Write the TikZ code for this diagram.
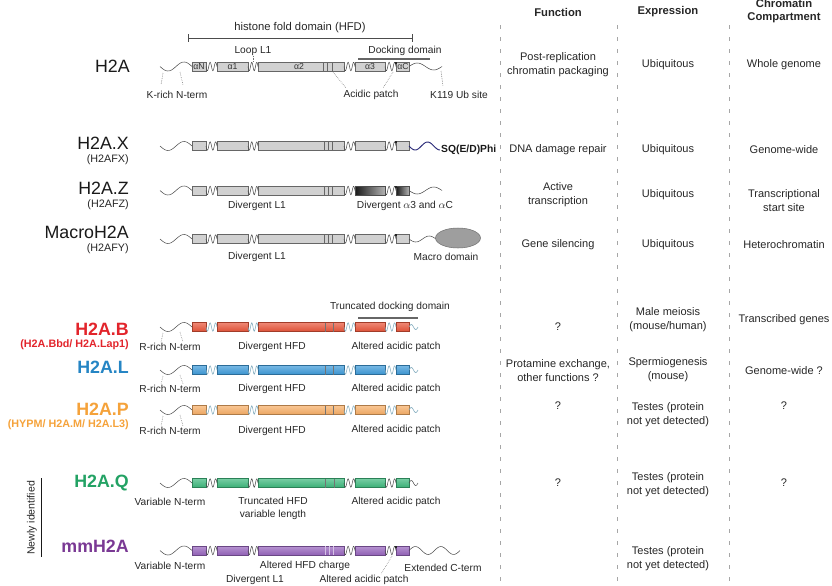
\documentclass[tikz,border=0pt]{standalone}
\usepackage{fontspec}
\setmainfont{Liberation Sans}
\usetikzlibrary{positioning}

\definecolor{hred}{HTML}{E8553A}
\definecolor{hredtxt}{HTML}{E2242B}
\definecolor{hblue}{HTML}{3D9AD9}
\definecolor{hbluetxt}{HTML}{2585C4}
\definecolor{horange}{HTML}{F7AE66}
\definecolor{horangetxt}{HTML}{F5A23A}
\definecolor{hgreen}{HTML}{3DB87C}
\definecolor{hgreentxt}{HTML}{23A264}
\definecolor{hpurple}{HTML}{9866BE}
\definecolor{hpurpletxt}{HTML}{7A3994}
\definecolor{loopblue}{HTML}{86AEC0}
\definecolor{sqblue}{HTML}{2A2A78}

\tikzset{
  wire/.style={draw=black!70, line width=0.45pt},
  loopwire/.style={draw=loopblue, line width=0.5pt},
  sqwire/.style={draw=sqblue, line width=0.8pt},
  gbox/.style={draw=black!60, fill=black!18, line width=0.45pt},
  cbox/.style={draw=#1!70!black, top color=#1!70!white, bottom color=#1!95!black, line width=0.45pt},
  zbox/.style={draw=black!70, left color=black!90, right color=black!30, line width=0.45pt},
  leadline/.style={draw=black!55, densely dotted, line width=0.5pt},
  dockbar/.style={draw=black!60, line width=1.3pt},
  tagnote/.style={font=\fontsize{8.7}{10.8}\selectfont, text=black!85, align=center, inner sep=0pt},
  cellnote/.style={font=\fontsize{9.4}{12}\selectfont, text=black!85, align=center, inner sep=0pt},
  colhead/.style={font=\bfseries\fontsize{9.6}{11.5}\selectfont, text=black!85, align=center, inner sep=0pt},
  vname/.style={font=\fontsize{15.2}{17}\selectfont, text=black!90, anchor=east, inner sep=0pt},
  vbold/.style={font=\bfseries\fontsize{15.2}{17}\selectfont, text=#1, anchor=east, inner sep=0pt},
  vgene/.style={font=\fontsize{9.2}{11}\selectfont, text=black!85, anchor=east, inner sep=0pt},
  vgenebold/.style={font=\bfseries\fontsize{9.2}{11}\selectfont, text=#1, anchor=east, inner sep=0pt},
  hxlabel/.style={font=\fontsize{7.4}{8}\selectfont, text=black!80, inner sep=0pt},
  coldash/.style={draw=black!35, dash pattern=on 1.2mm off 2.4mm, line width=0.5pt},
}

\begin{document}
\begin{tikzpicture}[x=0.03cm,y=-0.03cm]
  \useasboundingbox (0,0) rectangle (832,586);
  \def\wave#1#2#3#4#5#6{\draw[#6] plot[smooth,samples=30,domain=#1:#2] (\x,{#3+(#4)*sin(360*#5/(#2-#1)*(\x-#1))});}
  \def\chain#1#2#3{%
    \wave{160}{192}{#1}{4.5}{1}{wire}
    \foreach \a/\b in {192/206,217/248,258/344,355/385,396/409}
      {\draw[#2] (\a,#1-4.5) rectangle (\b,#1+4.5);}
    \foreach \a/\b in {206/217,248/258,344/355,385/396}
      {\wave{\a}{\b}{#1}{4.2}{2}{#3}}}
  \def\stripes#1#2#3{\foreach \sx in {#2} {\draw[#3] (\sx,#1-4.5) -- (\sx,#1+4.5);}}
  \def\kdot#1{\fill[black!85] (394.5,#1-5) rectangle (396.8,#1-2.7);}

  % column heads and separators
  \node[colhead] (hfun) at (558,12) {Function};
  \node[colhead] (hexp) at (668,12) {Expression};
  \node[colhead] (hcomp) at (784,11) {Chromatin\\Compartment};
  \foreach \cx in {500,617,729} \draw[coldash] (\cx,25) -- (\cx,586);

  % H2A
  \node[vname] (nH2A) at (130,66) {H2A};
  \chain{66.5}{gbox}{wire}
  \stripes{66.5}{323,327.5,332}{draw=black!60}
  \wave{409}{442}{66.5}{-3.5}{1}{wire}
  \kdot{66.5}
  \node[hxlabel] (aN) at (199,66.5) {αN};
  \node[hxlabel] (a1) at (232.5,66.5) {α1};
  \node[hxlabel] (a2) at (299,66.5) {α2};
  \node[hxlabel] (a3) at (370,66.5) {α3};
  \node[hxlabel] (aC) at (403,66.5) {αC};
  \coordinate (hfdl) at (188,38);
  \coordinate (hfdr) at (413,38);
  \draw[|-|, black!70, line width=0.6pt] (hfdl) -- (hfdr);
  \node[tagnote, font=\fontsize{9.6}{11}\selectfont] (hfd) at (300,28) {histone fold domain (HFD)};
  \node[tagnote] (loopL1) at (253,51) {Loop L1};
  \coordinate (loopend) at (253,62);
  \draw[leadline] (loopL1) -- (loopend);
  \node[tagnote] (dock) at (405,51) {Docking domain};
  \draw[dockbar] (358,59) -- (430,59);
  \node[tagnote] (krich) at (177,95) {K-rich N-term};
  \coordinate (kr1) at (163,73); \coordinate (kr1e) at (161,85);
  \coordinate (kr2) at (180,72); \coordinate (kr2e) at (183,85);
  \draw[leadline] (kr1) -- (kr1e);
  \draw[leadline] (kr2) -- (kr2e);
  \node[tagnote] (acid) at (371,95) {Acidic patch};
  \coordinate (ac1) at (333,72); \coordinate (ac1e) at (346,88);
  \coordinate (ac2) at (393,72); \coordinate (ac2e) at (383,88);
  \draw[leadline] (ac1) -- (ac1e);
  \draw[leadline] (ac2) -- (ac2e);
  \node[tagnote] (kub) at (459,95) {K119 Ub site};
  \coordinate (ku) at (441,71); \coordinate (kue) at (443,86);
  \draw[leadline] (ku) -- (kue);
  \node[cellnote] (fH2A) at (558,65) {Post-replication\\chromatin packaging};
  \node[cellnote] (eH2A) at (668,65) {Ubiquitous};
  \node[cellnote] (cH2A) at (784,65) {Whole genome};

  % H2A.X
  \node[vname] (nX) at (129,143) {H2A.X};
  \node[vgene] (gX) at (129,159.5) {(H2AFX)};
  \chain{146}{gbox}{wire}
  \stripes{146}{324,328.3,332.3}{draw=black!60}
  \kdot{146}
  \wave{409}{440}{146}{4}{1.25}{sqwire}
  \node[font=\bfseries\fontsize{8.8}{10}\selectfont, text=black!90, anchor=west, inner sep=0pt] (sq) at (441,150) {SQ(E/D)Phi};
  \node[cellnote] (fX) at (558,150) {DNA damage repair};
  \node[cellnote] (eX) at (668,150) {Ubiquitous};
  \node[cellnote] (cX) at (784,150) {Genome-wide};

  % H2A.Z
  \node[vname] (nZ) at (129,188) {H2A.Z};
  \node[vgene] (gZ) at (129,204.5) {(H2AFZ)};
  \chain{190.5}{gbox}{wire}
  \draw[zbox] (355,186) rectangle (385,195);
  \draw[zbox] (396,186) rectangle (409,195);
  \stripes{190.5}{324,328.3,332.3}{draw=black!60}
  \kdot{190.5}
  \wave{409}{442}{190.5}{3.5}{1}{wire}
  \node[tagnote] (dL1z) at (257,206) {Divergent L1};
  \node[tagnote] (dacz) at (405,206) {Divergent $\alpha$3 and $\alpha$C};
  \node[cellnote] (fZ) at (558,194.5) {Active\\transcription};
  \node[cellnote] (eZ) at (668,194.5) {Ubiquitous};
  \node[cellnote] (cZ) at (784,201) {Transcriptional\\start site};

  % MacroH2A
  \node[vname] (nM) at (129,232.5) {MacroH2A};
  \node[vgene] (gM) at (129,249) {(H2AFY)};
  \chain{239}{gbox}{wire}
  \stripes{239}{324,328.3,332.3}{draw=black!60}
  \kdot{239}
  \wave{409}{436}{239}{3}{1}{wire}
  \draw[draw=black!55, fill=black!38, line width=0.45pt] (458,238) ellipse [x radius=22.5, y radius=10];
  \node[tagnote] (dL1m) at (257,257) {Divergent L1};
  \node[tagnote] (mdom) at (446,257) {Macro domain};
  \node[cellnote] (fM) at (558,245) {Gene silencing};
  \node[cellnote] (eM) at (668,245) {Ubiquitous};
  \node[cellnote] (cM) at (784,245) {Heterochromatin};

  % H2A.B
  \node[vbold=hredtxt] (nB) at (129,329) {H2A.B};
  \node[vgenebold=hredtxt] (gB) at (129,345) {(H2A.Bbd/ H2A.Lap1)};
  \chain{327}{cbox=hred}{loopwire}
  \stripes{327}{325,333}{draw=black!55}
  \wave{409}{418}{327}{-2.5}{1}{loopwire}
  \node[tagnote] (tdock) at (390,307) {Truncated docking domain};
  \draw[dockbar] (358,318) -- (418,318);
  \node[tagnote] (rB) at (170,347) {R-rich N-term};
  \node[tagnote] (hB) at (272,347) {Divergent HFD};
  \node[tagnote] (pB) at (396,347) {Altered acidic patch};
  \coordinate (rB1) at (163,333); \coordinate (rB1e) at (161,342);
  \coordinate (rB2) at (180,332); \coordinate (rB2e) at (183,342);
  \draw[leadline] (rB1) -- (rB1e);
  \draw[leadline] (rB2) -- (rB2e);
  \node[cellnote] (fB) at (558,327) {?};
  \node[cellnote] (eB) at (668,320) {Male meiosis\\(mouse/human)};
  \node[cellnote] (cB) at (784,320) {Transcribed genes};

  % H2A.L
  \node[vbold=hbluetxt] (nL) at (129,367) {H2A.L};
  \chain{370}{cbox=hblue}{loopwire}
  \stripes{370}{325,333}{draw=black!55}
  \wave{409}{418}{370}{-2.5}{1}{loopwire}
  \node[tagnote] (rL) at (170,389) {R-rich N-term};
  \node[tagnote] (hL) at (272,389) {Divergent HFD};
  \node[tagnote] (pL) at (396,389) {Altered acidic patch};
  \coordinate (rL1) at (163,376); \coordinate (rL1e) at (161,384);
  \coordinate (rL2) at (180,375); \coordinate (rL2e) at (183,384);
  \draw[leadline] (rL1) -- (rL1e);
  \draw[leadline] (rL2) -- (rL2e);
  \node[cellnote] (fL) at (558,371) {Protamine exchange,\\other functions ?};
  \node[cellnote] (eL) at (668,370) {Spermiogenesis\\(mouse)};
  \node[cellnote] (cL) at (784,371) {Genome-wide ?};

  % H2A.P
  \node[vbold=horangetxt] (nP) at (129,409) {H2A.P};
  \node[vgenebold=horangetxt] (gP) at (129,425) {(HYPM/ H2A.M/ H2A.L3)};
  \chain{410}{cbox=horange}{loopwire}
  \stripes{410}{325,333}{draw=black!55}
  \wave{409}{418}{410}{-2.5}{1}{loopwire}
  \node[tagnote] (rP) at (170,431) {R-rich N-term};
  \node[tagnote] (hP) at (272,431) {Divergent HFD};
  \node[tagnote] (pP) at (396,430) {Altered acidic patch};
  \coordinate (rP1) at (163,416); \coordinate (rP1e) at (161,426);
  \coordinate (rP2) at (180,415); \coordinate (rP2e) at (183,426);
  \draw[leadline] (rP1) -- (rP1e);
  \draw[leadline] (rP2) -- (rP2e);
  \node[cellnote] (fP) at (558,406) {?};
  \node[cellnote] (eP) at (668,415) {Testes (protein\\not yet detected)};
  \node[cellnote] (cP) at (784,406) {?};

  % newly identified
  \node[rotate=90, font=\fontsize{9}{10}\selectfont, text=black!85, inner sep=0pt] (newly) at (32,518) {Newly identified};
  \draw[black!90, line width=0.7pt] (41,478) -- (41,557);

  % H2A.Q
  \node[vbold=hgreentxt] (nQ) at (129,483) {H2A.Q};
  \chain{483}{cbox=hgreen}{wire}
  \stripes{483}{325,334}{draw=black!55}
  \wave{409}{418}{483}{-2.5}{1}{wire}
  \node[tagnote] (vQ) at (170,502) {Variable N-term};
  \node[tagnote] (hQ) at (273,508.5) {Truncated HFD\\variable length};
  \node[tagnote] (pQ) at (396,502) {Altered acidic patch};
  \node[cellnote] (fQ) at (558,483) {?};
  \node[cellnote] (eQ) at (668,485) {Testes (protein\\not yet detected)};
  \node[cellnote] (cQ) at (784,483) {?};

  % mmH2A
  \node[vbold=hpurpletxt] (nmm) at (129,546) {mmH2A};
  \chain{550.5}{cbox=hpurple}{wire}
  \stripes{550.5}{325,329,333}{draw=hpurple!40!white}
  \kdot{550.5}
  \wave{409}{460}{550.5}{-4}{2}{wire}
  \node[tagnote] (vmm) at (170,566) {Variable N-term};
  \node[tagnote] (hmm) at (305,566) {Altered HFD charge};
  \node[tagnote] (cmmt) at (443,568) {Extended C-term};
  \node[tagnote] (dL1mm) at (255,580) {Divergent L1};
  \node[tagnote] (pmm) at (364,580) {Altered acidic patch};
  \coordinate (am1) at (392,556); \coordinate (am1e) at (381,574);
  \draw[leadline] (am1) -- (am1e);
  \node[cellnote] (emm) at (668,559) {Testes (protein\\not yet detected)};
\end{tikzpicture}
\end{document}
